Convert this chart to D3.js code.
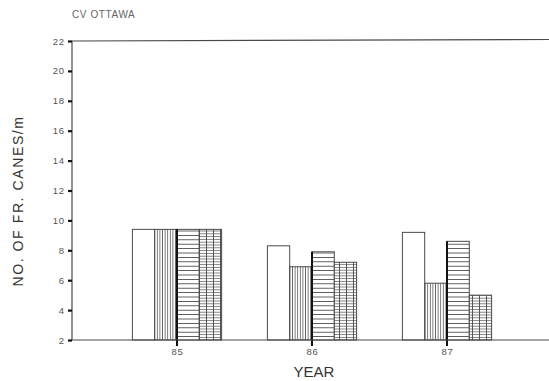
<!DOCTYPE html>
<html>
<head>
<meta charset="utf-8">
<script src="https://cdn.jsdelivr.net/npm/d3@7/dist/d3.min.js"></script>
<style>
  html, body { margin: 0; padding: 0; background: #fff; }
  svg { display: block; font-family: "Liberation Sans", Arial, sans-serif; }
</style>
</head>
<body>
<svg id="chart" width="549" height="381"></svg>
<script>
// Fruiting canes per metre, cultivar Ottawa, by year and treatment
const years = ["85", "86", "87"];
const treatments = ["t1", "t2", "t3", "t4"];
const t1Values = [9.4, 8.3, 9.2];
const t2Values = [9.4, 6.9, 5.8];
const t3Values = [9.4, 7.9, 8.6];
const t4Values = [9.4, 7.2, 5.0];
const yTicks = [2, 4, 6, 8, 10, 12, 14, 16, 18, 20, 22];

const seriesValues = [t1Values, t2Values, t3Values, t4Values];
const rows = [];
years.forEach((yr, i) => {
  treatments.forEach((t, j) => rows.push({ year: yr, treatment: t, index: j, value: seriesValues[j][i] }));
});

const ink = "#4a4a4a";
const svg = d3.select("#chart");
const plotLeft = 72, plotRight = 549, plotTop = 41, plotBottom = 340;

const y = d3.scaleLinear().domain([2, 22]).range([plotBottom, plotTop]);
const x = d3.scalePoint().domain(years).range([177, 447]);
const xInner = d3.scaleBand().domain(treatments).range([-44.6, 44.6]).padding(0);

// Fill patterns for the treatments
const defs = svg.append("defs");
function hatch(id, w, h, lines) {
  const p = defs.append("pattern").attr("id", id)
    .attr("patternUnits", "userSpaceOnUse").attr("width", w).attr("height", h);
  p.append("rect").attr("width", w).attr("height", h).attr("fill", "#fff");
  lines.forEach(l => p.append("line").attr("x1", l[0]).attr("y1", l[1]).attr("x2", l[2]).attr("y2", l[3])
    .attr("stroke", ink).attr("stroke-width", l[4] || 0.8));
}
hatch("vert", 2.6, 10, [[1.3, 0, 1.3, 10]]);
hatch("horiz", 10, 4.4, [[0, 2.2, 10, 2.2, 0.9]]);
hatch("cross", 7, 2.8, [[0, 1.4, 7, 1.4, 0.7], [3.5, 0, 3.5, 2.8, 0.9]]);
const fills = { t1: "#fff", t2: "url(#vert)", t3: "url(#horiz)", t4: "url(#cross)" };

// Bars
svg.append("g").selectAll("rect").data(rows).join("rect")
  .attr("x", d => x(d.year) + xInner(d.treatment))
  .attr("y", d => y(d.value))
  .attr("width", xInner.bandwidth())
  .attr("height", d => y(2) - y(d.value))
  .attr("fill", d => fills[d.treatment])
  .attr("stroke", ink).attr("stroke-width", 1);

// Year ticks, running down the edge of the third bar and below the axis
svg.append("g").selectAll("line").data(years).join("line")
  .attr("x1", d => x(d)).attr("x2", d => x(d))
  .attr("y1", (d, i) => y(t3Values[i])).attr("y2", plotBottom + 6)
  .attr("stroke", "#111").attr("stroke-width", 2);

// Frame: left axis, top line, bottom axis
svg.append("line").attr("x1", plotLeft).attr("x2", plotLeft).attr("y1", plotTop).attr("y2", plotBottom)
  .attr("stroke", ink).attr("stroke-width", 1.2);
svg.append("line").attr("x1", plotLeft).attr("x2", plotRight).attr("y1", plotTop).attr("y2", plotTop - 1.5)
  .attr("stroke", ink).attr("stroke-width", 1.2);
svg.append("line").attr("x1", plotLeft).attr("x2", plotRight).attr("y1", plotBottom).attr("y2", plotBottom)
  .attr("stroke", ink).attr("stroke-width", 1.2);

// Y axis
const yAxis = d3.axisLeft(y).tickValues(yTicks).tickSize(4).tickPadding(3);
const gy = svg.append("g").attr("transform", `translate(${plotLeft},0)`).call(yAxis);
gy.select(".domain").remove();
gy.selectAll(".tick line").attr("stroke", "#111").attr("stroke-width", 2.2);
gy.selectAll(".tick text").attr("fill", "#555").attr("font-size", "9.5px")
  .attr("letter-spacing", "0.9px")
  .attr("font-family", "'Liberation Sans', Arial, sans-serif");

// X axis labels
const xAxis = d3.axisBottom(x).tickSize(0).tickPadding(8);
const gx = svg.append("g").attr("transform", `translate(0,${plotBottom})`).call(xAxis);
gx.select(".domain").remove();
gx.selectAll(".tick text").attr("fill", "#555").attr("font-size", "9.5px")
  .attr("letter-spacing", "0.6px")
  .attr("font-family", "'Liberation Sans', Arial, sans-serif");

// Titles
svg.append("text").attr("x", 72).attr("y", 18).attr("fill", "#666")
  .attr("font-size", "10px").attr("letter-spacing", "0.6px").text("CV OTTAWA");
svg.append("text").attr("transform", "translate(22.5,201) rotate(-90)")
  .attr("text-anchor", "middle").attr("fill", "#333").attr("font-size", "14px")
  .attr("letter-spacing", "1.6px")
  .text("NO. OF FR. CANES/m");
svg.append("text").attr("x", 314).attr("y", 377).attr("text-anchor", "middle")
  .attr("fill", "#333").attr("font-size", "15px").text("YEAR");
</script>
</body>
</html>
